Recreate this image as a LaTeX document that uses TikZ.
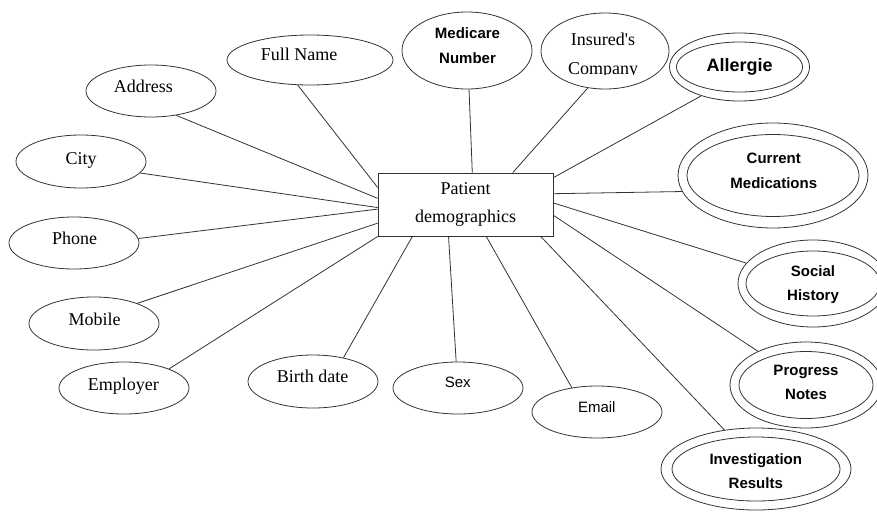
\documentclass[tikz,border=0pt]{standalone}
\usepackage{fontspec}
\setmainfont{Liberation Serif}
\newfontfamily\arial{Liberation Sans}
\usetikzlibrary{shapes.geometric}

\tikzset{
  ln/.style={draw=black!80, line width=0.8pt},
  entity/.style={ln, rectangle, minimum width=175pt, minimum height=63pt,
    inner sep=0pt, align=center, font=\fontsize{18}{28.3}\selectfont},
  attr/.style={ln, ellipse, inner sep=0pt},
  serifone/.style={inner sep=0pt, text height=12pt, text depth=0pt,
    font=\fontsize{18}{22}\selectfont},
  serifmulti/.style={inner sep=0pt, align=center, font=\fontsize{18}{29}\selectfont},
  sansone/.style={inner sep=0pt, text height=10.7pt, text depth=0pt,
    font=\arial\fontsize{15}{18}\selectfont},
  boldone/.style={inner sep=0pt, text height=12.9pt, text depth=0pt,
    font=\arial\bfseries\fontsize{18}{22}\selectfont},
  boldmulti/.style={inner sep=0pt, align=center,
    font=\arial\bfseries\fontsize{15}{24.2}\selectfont},
  link/.style={draw=black!80, line width=0.8pt}
}

\begin{document}
\begin{tikzpicture}[x=1pt, y=-1pt]
\useasboundingbox (0,0) rectangle (877,511);

% central entity
\node[entity] (pd) at (465.5,204.5) {Patient\\demographics};

% simple attributes
\node[attr, minimum width=166pt, minimum height=50pt] (fullname) at (310,60) {};
\node[serifone] (fullname-t) at (299,54.7) {Full Name};

\node[attr, minimum width=130pt, minimum height=52pt] (address) at (151,91) {};
\node[serifone] (address-t) at (143.3,86.7) {Address};

\node[attr, minimum width=130pt, minimum height=53pt] (city) at (81,161.5) {};
\node[serifone] (city-t) at (81.2,158) {City};

\node[attr, minimum width=130pt, minimum height=52pt] (phone) at (74,243) {};
\node[serifone] (phone-t) at (74.7,238.8) {Phone};

\node[attr, minimum width=130pt, minimum height=53pt] (mobile) at (94,323.5) {};
\node[serifone] (mobile-t) at (94.5,319.2) {Mobile};

\node[attr, minimum width=130pt, minimum height=52pt] (employer) at (124,388) {};
\node[serifone] (employer-t) at (123.3,384.5) {Employer};

\node[attr, minimum width=130pt, minimum height=53pt] (birth) at (313,381.5) {};
\node[serifone] (birth-t) at (312.7,376.7) {Birth date};

\node[attr, minimum width=130pt, minimum height=52pt] (sex) at (458,388) {};
\node[sansone] (sex-t) at (457.8,382.5) {Sex};

\node[attr, minimum width=130pt, minimum height=52pt] (email) at (597,412) {};
\node[sansone] (email-t) at (596.8,406.7) {Email};

\node[attr, minimum width=130pt, minimum height=77pt] (medicare) at (467,50.5) {};
\node[boldmulti] (medicare-t) at (467.5,45.7) {Medicare\\Number};

\node[attr, minimum width=128pt, minimum height=76pt] (insured) at (605,51) {};
\node[serifmulti] (insured-t) at (603,55.3) {Insured\textquotesingle s\\Company};
% the descenders of the second line are cut off at the baseline
\fill[white] ([yshift=3.6pt]insured-t.south west) rectangle ([yshift=-0.5pt]insured-t.south east);

% multivalued attributes (double outline)
\node[attr, minimum width=140pt, minimum height=68pt] (allergie) at (739.5,67) {};
\node[attr, minimum width=126pt, minimum height=50pt] (allergie-in) at (allergie.center) {};
\node[boldone] (allergie-t) at (739.7,64.7) {Allergie};

\node[attr, minimum width=190pt, minimum height=105pt] (current) at (773,175.5) {};
\node[attr, minimum width=172pt, minimum height=82pt] (current-in) at (current.center) {};
\node[boldmulti] (current-t) at (773.8,170.8) {Current\\Medications};

\node[attr, minimum width=150pt, minimum height=87pt] (social) at (813,283.5) {};
\node[attr, minimum width=134pt, minimum height=65pt] (social-in) at (social.center) {};
\node[boldmulti] (social-t) at (813,285) {Social\\History};

\node[attr, minimum width=152pt, minimum height=86pt] (progress) at (806,385) {};
\node[attr, minimum width=134pt, minimum height=67pt] (progress-in) at (progress.center) {};
\node[boldmulti] (progress-t) at (806,382.7) {Progress\\Notes};

\node[attr, minimum width=190pt, minimum height=82pt] (invest) at (756,469) {};
\node[attr, minimum width=168pt, minimum height=64pt] (invest-in) at (invest.center) {};
\node[boldmulti] (invest-t) at (755.8,470.8) {Investigation\\Results};

% connectors
\draw[link] (fullname.244) -- (pd.169);
\draw[link] (address.316) -- (pd.176);
\draw[link] (city.349) -- (pd.182);
\draw[link] (phone.4) -- (pd.183);
\draw[link] (mobile.25) -- (pd.192);
\draw[link] (employer.23) -- (pd.200);
\draw[link] (birth.38) -- (pd.211);
\draw[link] (sex.94) -- (pd.242);
\draw[link] (email.136) -- (pd.303);
\draw[link] (medicare.273) -- (pd.78);
\draw[link] (insured.245) -- (pd.34);
\draw[link] (allergie.217) -- (pd.17);
\draw[link] (current.190) -- (pd.7);
\draw[link] (social.163) -- (pd.1);
\draw[link] (progress.145) -- (pd.353);
\draw[link] (invest.129) -- (pd.337);
\end{tikzpicture}
\end{document}
